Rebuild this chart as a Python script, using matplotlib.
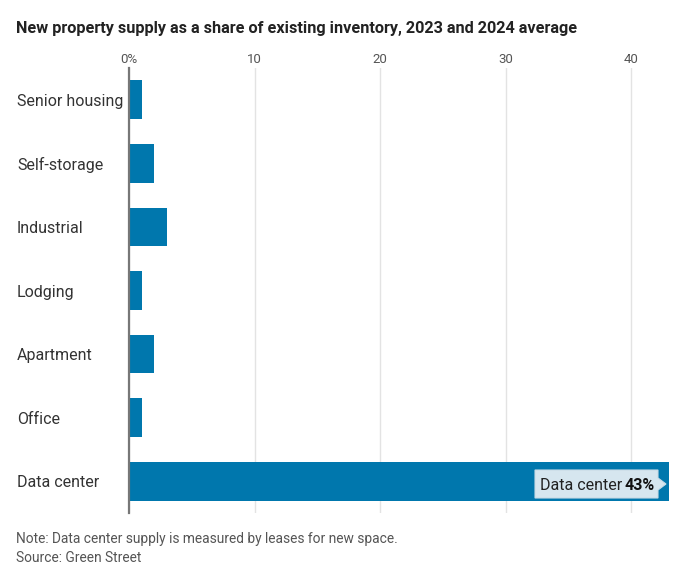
import matplotlib
matplotlib.use("Agg")
import matplotlib.pyplot as plt
import matplotlib.transforms as mtrans
from matplotlib.patches import Polygon
import numpy as np

categories = ["Senior housing", "Self-storage", "Industrial", "Lodging",
              "Apartment", "Office", "Data center"]
values = [1, 2, 3, 1, 2, 1, 43]
xticks = [0, 10, 20, 30, 40]
xticklabels = ["0%", "10", "20", "30", "40"]

plt.rcParams['font.family'] = ['Roboto', 'DejaVu Sans']

W, H = 691, 575
fig = plt.figure(figsize=(W / 100, H / 100), dpi=100)
ax = fig.add_axes([129 / W, 1 - 513 / H, (669 - 129) / W, (513 - 68) / H])

bar_color = "#0077ad"
y = np.arange(len(categories))
ax.barh(y, values, height=0.61, color=bar_color, zorder=2)
ax.set_xlim(0, 43)
ax.set_ylim(len(categories) - 0.5, -0.5)

ax.set_xticks(xticks)
ax.set_xticklabels(xticklabels)
ax.xaxis.tick_top()
ax.tick_params(axis='x', length=0, pad=1.5, labelsize=9.5, labelcolor="#555555")
ax.set_yticks([])
for s in ["top", "right", "bottom"]:
    ax.spines[s].set_visible(False)
ax.spines["left"].set_color("#777777")
ax.spines["left"].set_linewidth(1.6)
ax.spines["left"].set_zorder(3)
ax.grid(axis='x', color="#e3e3e3", linewidth=1, zorder=0)

trans = mtrans.blended_transform_factory(fig.transFigure, ax.transData)
for yi, cat in zip(y, categories):
    ax.text(17 / W, yi, cat, transform=trans, fontsize=11.5, color="#333333",
            va='center_baseline', ha='left', clip_on=False)

fig.text(16 / W, 1 - 28 / H,
         "New property supply as a share of existing inventory, 2023 and 2024 average",
         fontsize=11.7, fontweight='bold', color="#222222", va='center', ha='left')
fig.text(16 / W, 1 - 539 / H, "Note: Data center supply is measured by leases for new space.",
         fontsize=9.9, color="#555555", va='center', ha='left')
fig.text(16 / W, 1 - 558 / H, "Source: Green Street",
         fontsize=9.9, color="#555555", va='center', ha='left')

# tooltip annotation for data center
fig.canvas.draw()
renderer = fig.canvas.get_renderer()
box_right_px = 658
box_left_px = 535
box_top_px = 470
box_bot_px = 498
tip_px = 666
ymid_px = (box_top_px + box_bot_px) / 2
to_fig = lambda px, py: (px / W, 1 - py / H)
poly = Polygon([to_fig(box_left_px, box_top_px), to_fig(box_right_px, box_top_px),
                to_fig(box_right_px, ymid_px - 6), to_fig(tip_px, ymid_px),
                to_fig(box_right_px, ymid_px + 6), to_fig(box_right_px, box_bot_px),
                to_fig(box_left_px, box_bot_px)],
               closed=True, transform=fig.transFigure, facecolor="#d6e6ef",
               edgecolor="#c8dbe6", linewidth=0.8, zorder=5)
fig.patches.append(poly)
t2 = fig.text(655 / W, 1 - ymid_px / H, "43%", fontsize=11.5, fontweight='bold',
              color="#111111", va='center_baseline', ha='right', zorder=6)
fig.canvas.draw()
bb = t2.get_window_extent(renderer)
fig.text(bb.x0 / W - 3 / W, 1 - ymid_px / H, "Data center", fontsize=11.5,
         color="#222222", va='center_baseline', ha='right', zorder=6)

fig.savefig("out.png", dpi=100)
